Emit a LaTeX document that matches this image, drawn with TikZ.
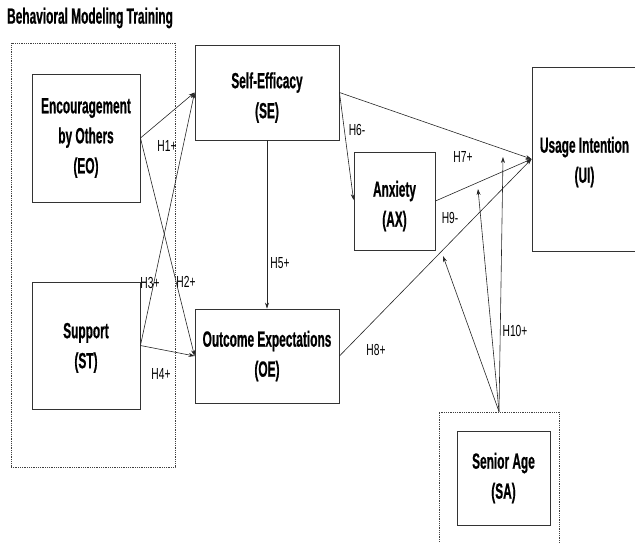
\documentclass[tikz,border=0pt]{standalone}
\usepackage{fontspec}
\setmainfont{Liberation Sans}
\newfontfamily\boxfont[FakeStretch=0.54, BoldFeatures={FakeBold=0.6}]{Liberation Sans}
\newfontfamily\lblfont[FakeStretch=0.64]{Liberation Sans}
\usetikzlibrary{arrows.meta,calc}
\tikzset{
  box/.style={draw=black!80, line width=0.9pt, align=center, inner sep=0pt,
    font=\boxfont\bfseries\fontsize{22}{30}\selectfont},
  grp/.style={draw=black!75, line width=0.9pt, dash pattern=on 0.9pt off 0.9pt, inner sep=0pt},
  arr/.style={-{Stealth[length=6pt,width=4pt]}, line width=0.6pt, draw=black!85},
  lbl/.style={font=\lblfont\fontsize{16}{18}\selectfont, inner sep=0pt},
  ttl/.style={font=\boxfont\bfseries\fontsize{22}{24}\selectfont, inner sep=0pt}
}
\begin{document}
\begin{tikzpicture}[x=1pt,y=-1pt]
\useasboundingbox (0,0) rectangle (635,542);
\clip (0,0) rectangle (635,542);
% title
\node[ttl, anchor=west] (T) at (7,18) {Behavioral Modeling Training};
% groups
\node[grp, minimum width=164, minimum height=424] (BMT) at (93,255) {};
\node[grp, minimum width=120, minimum height=135] (SAG) at (499,479.5) {};
% boxes
\node[box, minimum width=108, minimum height=128] (EO) at (86,138) {Encouragement\\by Others\\(EO)};
\node[box, minimum width=108, minimum height=127] (ST) at (86,345.5) {\rule{0pt}{20pt}Support\\(ST)};
\node[box, minimum width=144, minimum height=95] (SE) at (267,92.5) {\rule{0pt}{26pt}Self-Efficacy\\(SE)};
\node[box, minimum width=144, minimum height=94] (OE) at (267,356) {Outcome Expectations\\(OE)};
\node[box, minimum width=81, minimum height=98] (AX) at (394.5,201) {\rule{0pt}{26pt}Anxiety\\(AX)};
\node[box, minimum width=105, minimum height=184] (UI) at (584.5,159) {\rule{0pt}{22pt}Usage Intention\\(UI)};
\node[box, minimum width=93, minimum height=94] (SA) at (503.5,478) {Senior Age\\(SA)};
% connectors
\draw[arr] (EO.east) -- (SE.west);
\draw[arr] (EO.east) -- (OE.west);
\draw[arr] (ST.east) -- (SE.west);
\draw[arr] (ST.east) -- (OE.west);
\draw[arr] (SE.south) -- (OE.north);
\draw[arr] (SE.east) -- ($(AX.west)+(0,-1)$);
\draw[arr] (SE.east) -- (UI.west);
\draw[arr] (AX.east) -- (UI.west);
\draw[arr] (OE.east) -- (UI.west);
% moderation
\coordinate (m8) at (443,256);
\coordinate (m9) at (478,189);
\coordinate (m7) at (503,157);
\draw[arr] (SAG.north) -- (m8);
\draw[arr] (SAG.north) -- (m9);
\draw[arr] (SAG.north) -- (m7);
% labels
\node[lbl] (h1) at (167,146) {H1+};
\node[lbl] (h2) at (186,282) {H2+};
\node[lbl] (h3) at (150,283) {H3+};
\node[lbl] (h4) at (161,374) {H4+};
\node[lbl] (h5) at (280,263) {H5+};
\node[lbl] (h6) at (357,130) {H6-};
\node[lbl] (h7) at (463,157) {H7+};
\node[lbl] (h9) at (450,218) {H9-};
\node[lbl] (h8) at (376,350) {H8+};
\node[lbl] (h10) at (515,331) {H10+};
\end{tikzpicture}
\end{document}
